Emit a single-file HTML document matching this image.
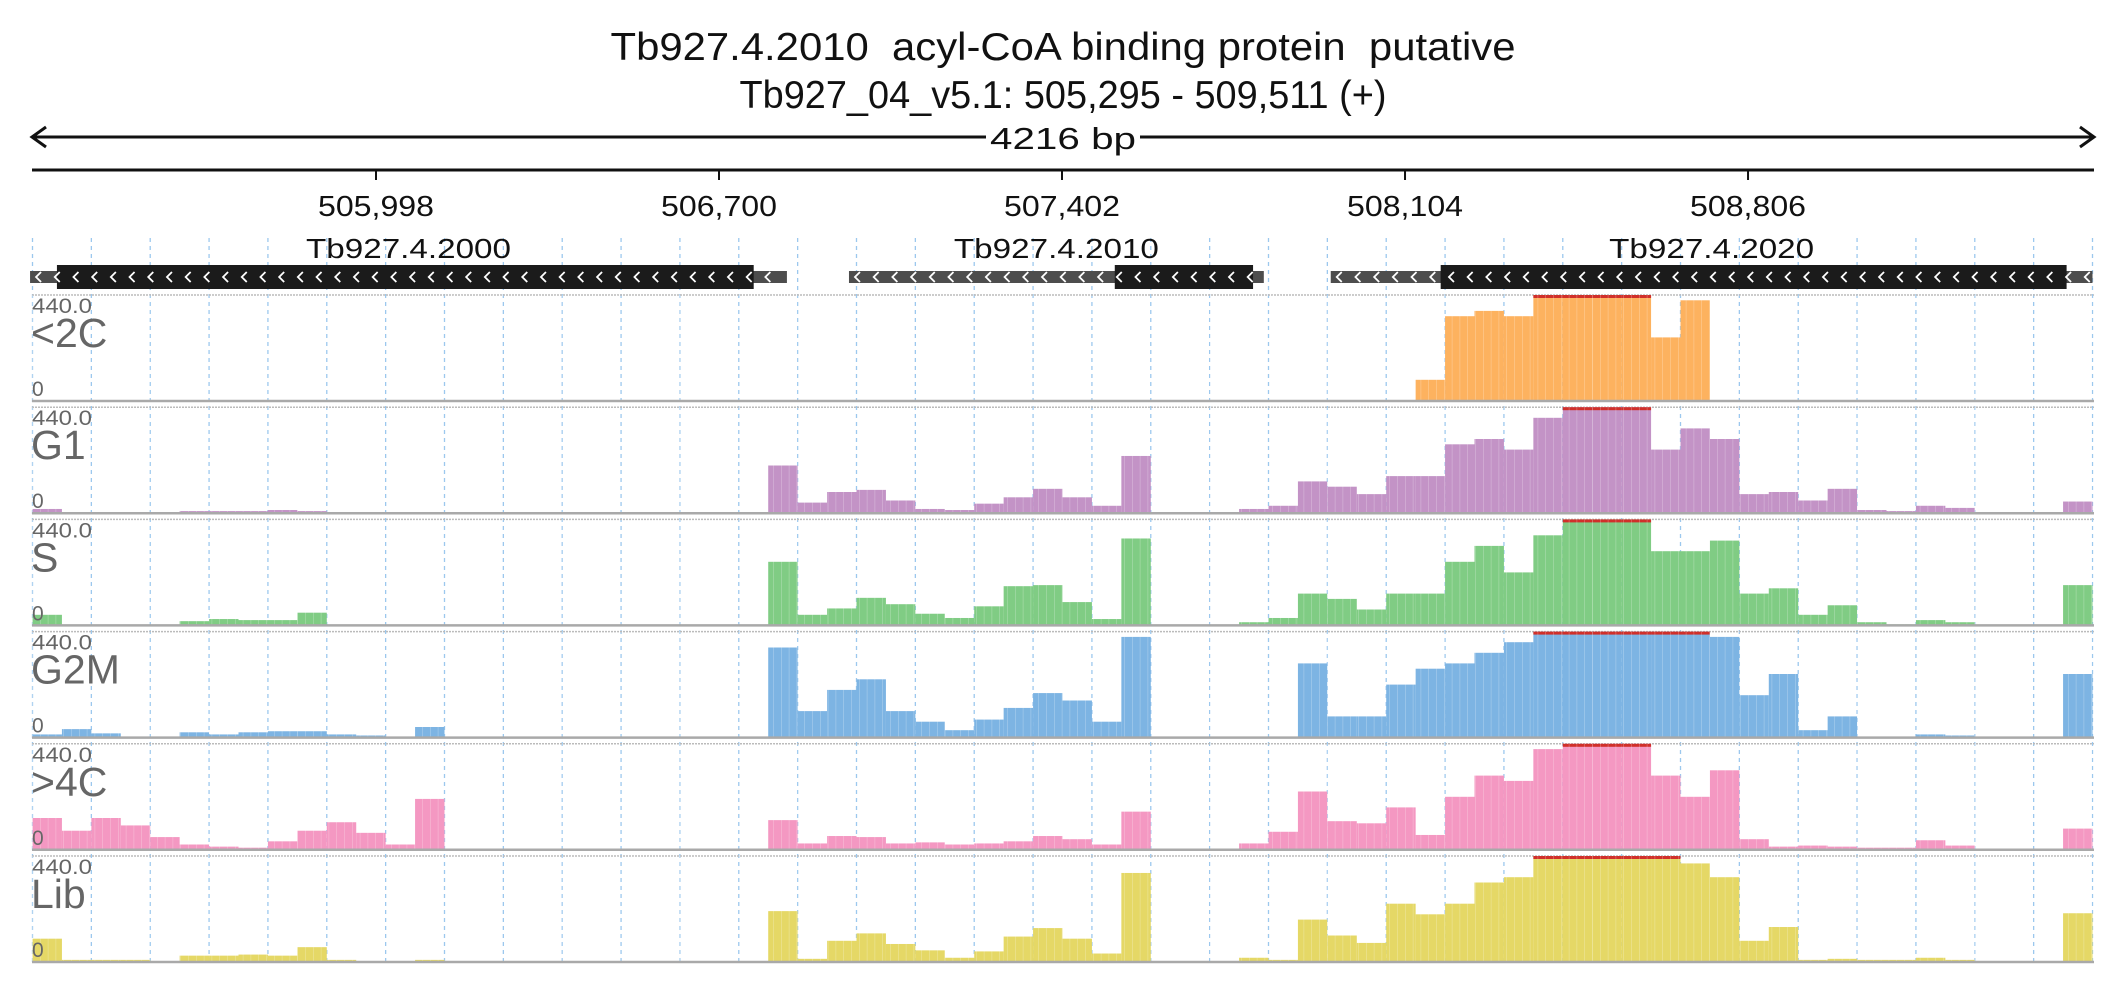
<!DOCTYPE html>
<html><head><meta charset="utf-8"><title>Tb927.4.2010 coverage</title>
<style>
html,body{margin:0;padding:0;background:#fff;}
svg{display:block;font-family:"Liberation Sans",sans-serif;}
text{white-space:pre;}
</style></head>
<body>
<svg id="chart" width="2126" height="1000" viewBox="0 0 2126 1000" xmlns="http://www.w3.org/2000/svg" xml:space="preserve">
  <text x="1063" y="60" text-anchor="middle" font-size="39" fill="#111" textLength="905" lengthAdjust="spacingAndGlyphs">Tb927.4.2010  acyl-CoA binding protein  putative</text>
  <text x="1063" y="108" text-anchor="middle" font-size="39" fill="#111" textLength="647" lengthAdjust="spacingAndGlyphs">Tb927_04_v5.1: 505,295 - 509,511 (+)</text>
  <g>
    <line x1="32" y1="137" x2="2094" y2="137" stroke="#111" stroke-width="3"/>
    <polyline points="46,127 32,137 46,147" fill="none" stroke="#111" stroke-width="3"/>
    <polyline points="2080,127 2094,137 2080,147" fill="none" stroke="#111" stroke-width="3"/>
    <rect x="986" y="120" width="154" height="34" fill="#fff"/>
    <text x="1063" y="149" text-anchor="middle" font-size="31" fill="#111" textLength="146" lengthAdjust="spacingAndGlyphs">4216 bp</text>
  </g>
  <line x1="32" y1="170" x2="2094" y2="170" stroke="#111" stroke-width="3"/>
  <g id="grid"></g>
  <g id="ticks"></g>
  <g id="genes"></g>
  <g id="tracks"></g>
</svg>
<script>
const startBp = 505295;
const endBp = 509511;
const tickValues = [505998, 506700, 507402, 508104, 508806];
const trackNames = ["<2C", "G1", "S", "G2M", ">4C", "Lib"];
const trackColors = ["#fdb25f", "#c393c6", "#80cc84", "#7db4e3", "#f498c2", "#e5d866"];
const maxLabel = "440.0";
// values: percent of 440 per bin (70 bins across the region)
const vLt2C = [0,0,0,0,0,0,0,0,0,0,0,0,0,0,0,0,0,0,0,0,0,0,0,0,0,0,0,0,0,0,0,0,0,0,0,0,0,0,0,0,0,0,0,0,0,0,0,20,80,85,80,100,100,100,100,60,95,0,0,0,0,0,0,0,0,0,0,0,0,0];
const vG1 = [4,0,0,0,0,2,2,2,3,2,0,0,0,0,0,0,0,0,0,0,0,0,0,0,0,45,10,20,22,12,4,3,9,15,23,15,7,54,0,0,1,4,7,30,25,18,35,35,65,70,60,90,100,100,100,60,80,70,18,20,12,23,3,2,7,5,0,0,0,11];
const vS = [10,0,0,0,0,4,6,5,5,12,0,0,0,0,0,0,0,0,0,0,0,0,0,0,0,60,10,16,26,20,11,7,18,37,38,22,6,82,0,0,0,3,7,30,25,15,30,30,60,75,50,85,100,100,100,70,70,80,30,35,10,19,3,1,5,3,0,0,0,38];
const vG2M = [3,8,4,1,1,5,3,5,6,6,3,2,1,10,0,0,0,0,0,0,0,0,0,0,0,85,25,45,55,25,15,7,17,28,42,35,15,95,0,0,0,0,0,70,20,20,50,65,70,80,90,100,100,100,100,100,100,95,40,60,7,20,0,0,3,2,0,0,0,60];
const vGt4C = [30,18,30,23,12,5,3,2,8,18,26,16,5,48,0,0,0,0,0,0,0,0,0,0,0,28,6,13,12,6,7,5,6,8,13,10,5,36,0,0,0,6,17,55,27,25,40,14,50,70,65,95,100,100,100,70,50,75,10,3,4,3,2,2,9,4,0,0,0,20];
const vLib = [22,2,2,2,0,6,6,7,6,14,2,0,0,2,0,0,0,0,0,0,0,0,0,0,0,48,3,20,27,17,11,4,10,24,32,22,8,84,0,0,0,4,2,40,25,18,55,45,55,75,80,100,100,100,100,100,93,80,20,33,2,3,2,2,4,2,0,0,0,46];
const trackValues = [vLt2C, vG1, vS, vG2M, vGt4C, vLib];
const geneNames = ["Tb927.4.2000", "Tb927.4.2010", "Tb927.4.2020"];
const geneUtrStart = [505290, 506966, 507952];
const geneUtrEnd = [506839, 507815, 509511];
const geneCdsStart = [505345, 507510, 508177];
const geneCdsEnd = [506771, 507793, 509458];

const NS = "http://www.w3.org/2000/svg";
const X0 = 32.5, X1 = 2092.5;
function xs(bp){ return X0 + (bp - startBp) * (X1 - X0) / (endBp - startBp); }
function mk(tag, attrs, parent){ const e = document.createElementNS(NS, tag); for (const k in attrs) e.setAttribute(k, attrs[k]); parent.appendChild(e); return e; }

const TOP0 = 295, PITCH = 112.2, TH = 106;
function ys(v, i){ const base = TOP0 + i*PITCH + TH; return base - Math.min(v,100)/100*TH; }

// grid
const grid = document.getElementById('grid');
const nGrid = 35;
for (let k = 0; k <= nGrid; k++) {
  const gx = X0 + k*(X1-X0)/nGrid;
  const l = mk('line', {x1:gx, y1:238, x2:gx, y2:965, stroke:'#9cc8ee', 'stroke-width':1.3, 'stroke-dasharray':'4,4'}, grid);
  
  
}

// ticks
const ticks = document.getElementById('ticks');
tickValues.forEach(t => {
  const tx = xs(t);
  const l = mk('line', {x1:tx, y1:170, x2:tx, y2:180, stroke:'#111', 'stroke-width':2}, ticks);
  
  
  const tt = mk('text', {x:tx, y:216, 'text-anchor':'middle', 'font-size':29, fill:'#111', textLength:116, lengthAdjust:'spacingAndGlyphs'}, ticks);
  tt.textContent = t.toLocaleString('en-US');
  
  
});

// genes
const genes = document.getElementById('genes');
function chevrons(a, b, g){
  for (let cx = a + 8; cx < b - 4; cx += 18.7) {
    mk('polyline', {points:`${cx+3},${272} ${cx-2},${277} ${cx+3},${282}`, fill:'none', stroke:'#fff', 'stroke-width':1.8}, g);
  }
}
geneNames.forEach((n, i) => {
  const g = mk('g', {}, genes);
  
  
  const a = Math.max(xs(geneUtrStart[i]), 30), b = Math.min(xs(geneUtrEnd[i]), 2095);
  mk('rect', {x:a, y:271, width:b-a, height:12, fill:'#4d4d4d'}, g);
  const c = xs(geneCdsStart[i]), d = xs(geneCdsEnd[i]);
  mk('rect', {x:c, y:265, width:d-c, height:24, fill:'#1b1b1b'}, g);
  chevrons(a, b, g);
  const lbl = mk('text', {x:(a+b)/2, y:258, 'text-anchor':'middle', 'font-size':28, fill:'#111', textLength:205, lengthAdjust:'spacingAndGlyphs'}, g);
  lbl.textContent = n;
  
  
});

// tracks
const tracks = document.getElementById('tracks');
trackNames.forEach((name, i) => {
  const g = mk('g', {}, tracks);
  
  
  const top = TOP0 + i*PITCH, base = top + TH;
  mk('line', {x1:32, y1:top, x2:2094, y2:top, stroke:'#bbb', 'stroke-width':1.5, 'stroke-dasharray':'2,1'}, g);
  const vals = trackValues[i];
  const binBp = (endBp - startBp) / vals.length;
  vals.forEach((v, k) => {
    if (v <= 0) return;
    const x0 = xs(startBp + k*binBp), x1 = xs(startBp + (k+1)*binBp);
    const r = mk('rect', {x:x0, y:ys(v,i), width:x1-x0, height:base-ys(v,i), fill:trackColors[i]}, g);
    
    
    if (v >= 100) mk('rect', {x:x0, y:top, width:x1-x0, height:3, fill:'#d0302a'}, g);
  });
  for (let sx = X0; sx < X1; sx += 7.8) mk('line', {x1:sx, y1:top, x2:sx, y2:base, stroke:'#fff', 'stroke-width':0.6, 'stroke-opacity':0.35}, g);
  mk('line', {x1:32, y1:base, x2:2094, y2:base, stroke:'#a9a9a9', 'stroke-width':2.5}, g);
  const mx = mk('text', {x:32, y:top+18, 'font-size':21, fill:'#666', textLength:60, lengthAdjust:'spacingAndGlyphs'}, g);
  mx.textContent = maxLabel;
  
  
  const nm = mk('text', {x:31, y:top+52, 'font-size':41, fill:'#666'}, g);
  nm.textContent = name;
  
  
  const z = mk('text', {x:32, y:base-5, 'font-size':21, fill:'#666'}, g);
  z.textContent = '0';
  
  
});
</script>
</body></html>
